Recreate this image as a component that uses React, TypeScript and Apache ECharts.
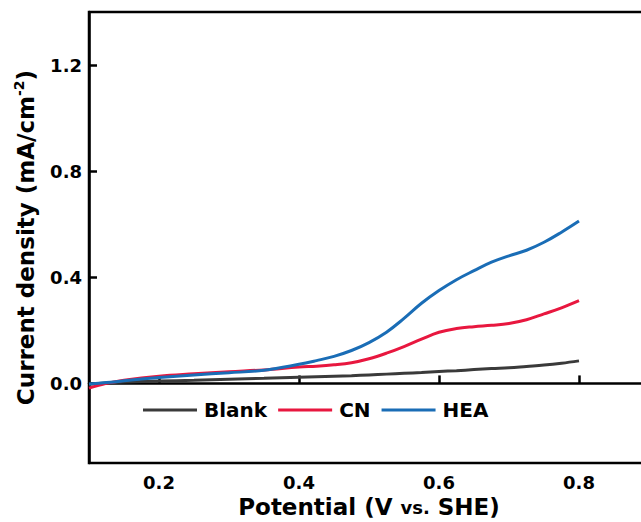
import React, { useEffect, useRef } from "react";
import * as echarts from "echarts";

const potential = [0.1, 0.125, 0.15, 0.2, 0.25, 0.3, 0.35, 0.4, 0.425, 0.45, 0.475, 0.5, 0.525, 0.55, 0.575, 0.6, 0.625, 0.65, 0.675, 0.7, 0.725, 0.75, 0.775, 0.8];
const blank = [-0.003, 0.002, 0.005, 0.009, 0.012, 0.016, 0.019, 0.023, 0.025, 0.027, 0.029, 0.032, 0.035, 0.038, 0.041, 0.045, 0.048, 0.052, 0.056, 0.059, 0.064, 0.069, 0.076, 0.085];
const cn = [-0.018, 0.0, 0.012, 0.027, 0.036, 0.044, 0.051, 0.062, 0.065, 0.07, 0.078, 0.093, 0.114, 0.139, 0.167, 0.193, 0.207, 0.214, 0.219, 0.226, 0.24, 0.262, 0.285, 0.312];
const hea = [-0.002, 0.003, 0.01, 0.022, 0.032, 0.04, 0.05, 0.072, 0.086, 0.102, 0.124, 0.154, 0.193, 0.245, 0.302, 0.35, 0.391, 0.425, 0.457, 0.481, 0.502, 0.532, 0.57, 0.612];
const xTicks = [0.2, 0.4, 0.6, 0.8];
const yTicks = [0.0, 0.4, 0.8, 1.2];
const seriesNames = ["Blank", "CN", "HEA"];
const colors = ["#3a3a3a", "#e8173f", "#1a6db6"];

const FONT = "'DejaVu Sans', sans-serif";

export default function App() {
  const ref = useRef<HTMLDivElement>(null);
  useEffect(() => {
    if (!ref.current) return;
    const chart = echarts.init(ref.current, null, { renderer: "svg" });
    const toPairs = (ys: number[]) => potential.map((x, i) => [x, ys[i]]);
    const all = [blank, cn, hea];
    chart.setOption({
      animation: false,
      backgroundColor: "#ffffff",
      grid: {
        left: 89,
        top: 12,
        width: 560,
        height: 451,
        show: true,
        borderColor: "#000",
        borderWidth: 2.5,
        backgroundColor: "transparent",
        outerBoundsMode: "none",
        containLabel: false,
      },
      legend: {
        left: 143,
        top: 400,
        icon: "rect",
        itemWidth: 54,
        itemHeight: 3,
        itemGap: 11,
        padding: 0,
        textStyle: { fontFamily: FONT, fontWeight: "bold", fontSize: 20, color: "#000", padding: [0, 0, 0, 2] },
        data: seriesNames,
      },
      xAxis: {
        type: "value",
        min: 0.1,
        max: 0.9,
        splitLine: { show: false },
        axisLine: { show: true, lineStyle: { color: "#000", width: 2.5 } },
        axisTick: { show: true, inside: true, length: 8, lineStyle: { color: "#000", width: 2.5 }, customValues: xTicks },
        axisLabel: {
          customValues: xTicks,
          margin: 10,
          fontFamily: FONT,
          fontWeight: "bold",
          fontSize: 18,
          color: "#000",
          formatter: (v: number) => v.toFixed(1),
        },
        name: "{t|Potential (V }{v|vs.}{t| SHE)}",
        nameLocation: "middle",
        nameGap: 26,
        nameTextStyle: {
          color: "#000",
          rich: {
            t: { fontFamily: FONT, fontWeight: "bold", fontSize: 23, color: "#000" },
            v: { fontFamily: FONT, fontWeight: "bold", fontSize: 18, color: "#000" },
          },
        },
      },
      yAxis: {
        type: "value",
        min: -0.3,
        max: 1.4,
        splitLine: { show: false },
        axisLine: { show: true, lineStyle: { color: "#000", width: 2.5 } },
        axisTick: { show: true, inside: true, length: 8, lineStyle: { color: "#000", width: 2.5 }, customValues: yTicks },
        axisLabel: {
          customValues: yTicks,
          margin: 7,
          fontFamily: FONT,
          fontWeight: "bold",
          fontSize: 18,
          color: "#000",
          formatter: (v: number) => v.toFixed(1),
        },
        name: "{t|Current density (mA/cm}{s|-2}{t|)}",
        nameLocation: "middle",
        nameGap: 49,
        nameTextStyle: {
          color: "#000",
          rich: {
            t: { fontFamily: FONT, fontWeight: "bold", fontSize: 23, color: "#000", lineHeight: 28 },
            s: { fontFamily: FONT, fontWeight: "bold", fontSize: 14, color: "#000", verticalAlign: "top", lineHeight: 28 },
          },
        },
      },
      series: seriesNames.map((name, i) => ({
        name,
        type: "line",
        smooth: 0.4,
        symbol: "none",
        showSymbol: false,
        color: colors[i],
        lineStyle: { color: colors[i], width: 3 },
        data: toPairs(all[i]),
      })),
    });
    return () => chart.dispose();
  }, []);
  return <div ref={ref} style={{ position: "absolute", left: 0, top: 0, width: 641, height: 522 }} />;
}
